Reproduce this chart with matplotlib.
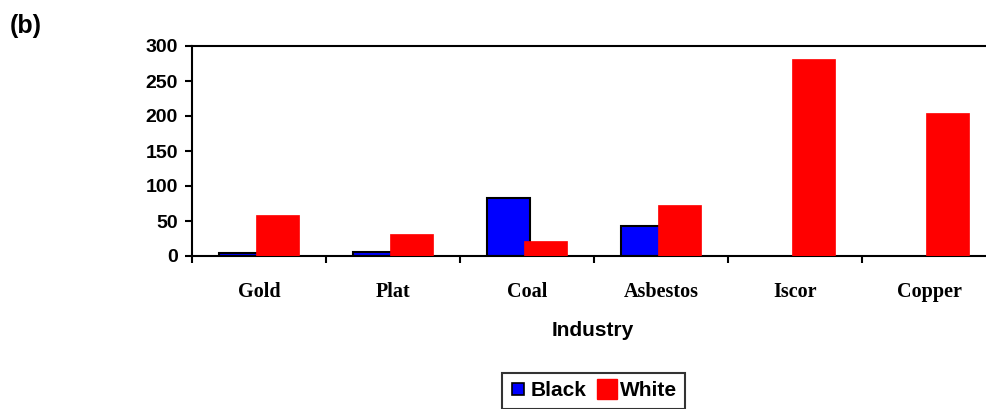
import matplotlib
matplotlib.use('Agg')
import matplotlib.pyplot as plt
from matplotlib.lines import Line2D
import numpy as np

# values
industries = ['Gold', 'Plat', 'Coal', 'Asbestos', 'Iscor', 'Copper']
black = [4, 6, 83, 43, 0, 0]
white = [59, 31, 22, 73, 282, 204]

x = np.arange(len(industries))
w = 0.32
off = 0.14

fig = plt.figure(figsize=(9.87, 4.09), dpi=100)
ax = fig.add_axes([192/987, 1-256/409, (996-192)/987, (256-46)/409])

# no outline for empty bars (Excel draws nothing there)
edge_w = [1.5 if v > 0 else 0 for v in black]
ax.bar(x - off, black, w, color='#0000ff', edgecolor='black', linewidth=edge_w, zorder=2)
ax.bar(x + off, white, w, color='#ff0000', edgecolor='#ff0000', linewidth=0.5, zorder=3)

ax.set_xlim(-0.5, 5.5)
ax.set_ylim(0, 300)
ax.set_yticks(range(0, 301, 50))
ax.set_xticks(np.arange(-0.5, 6.0, 1.0))
ax.set_xticklabels([])
ax.set_xticks(x, minor=True)
ax.set_xticklabels(industries, minor=True, fontfamily='Liberation Serif',
                   fontweight='bold', fontsize=14.5)
ax.tick_params(axis='x', which='minor', length=0, pad=19)
ax.tick_params(axis='x', which='major', direction='out', length=5, width=1.5)
ax.tick_params(axis='y', direction='out', length=5, width=1.5, pad=5)
for t in ax.get_yticklabels():
    t.set_fontfamily('Liberation Sans')
    t.set_fontweight('bold')
    t.set_fontsize(14)
for s in ax.spines.values():
    s.set_linewidth(1.5)

fig.text(593/987, 1-330/409, 'Industry', ha='center', va='center',
         fontfamily='Liberation Sans', fontweight='bold', fontsize=15)
fig.text(10/987, 1-26/409, '(b)', ha='left', va='center',
         fontfamily='Liberation Sans', fontweight='bold', fontsize=18)

handles = [Line2D([], [], linestyle='none', marker='s', markersize=9,
                  markerfacecolor='#0000ff', markeredgecolor='black', markeredgewidth=1.2),
           Line2D([], [], linestyle='none', marker='s', markersize=14,
                  markerfacecolor='#ff0000', markeredgecolor='#ff0000')]
leg = fig.legend(handles, ['Black', 'White'], loc='upper center',
                 bbox_to_anchor=(593.5/987, 1-373/409), ncol=2, frameon=True,
                 fancybox=False, edgecolor='black', handlelength=0.8,
                 handletextpad=0.2, columnspacing=0.6, borderpad=0.4,
                 borderaxespad=0,
                 prop={'family': 'Liberation Sans', 'weight': 'bold', 'size': 15})
leg.get_frame().set_linewidth(1.5)

fig.savefig('out.png', dpi=100)
